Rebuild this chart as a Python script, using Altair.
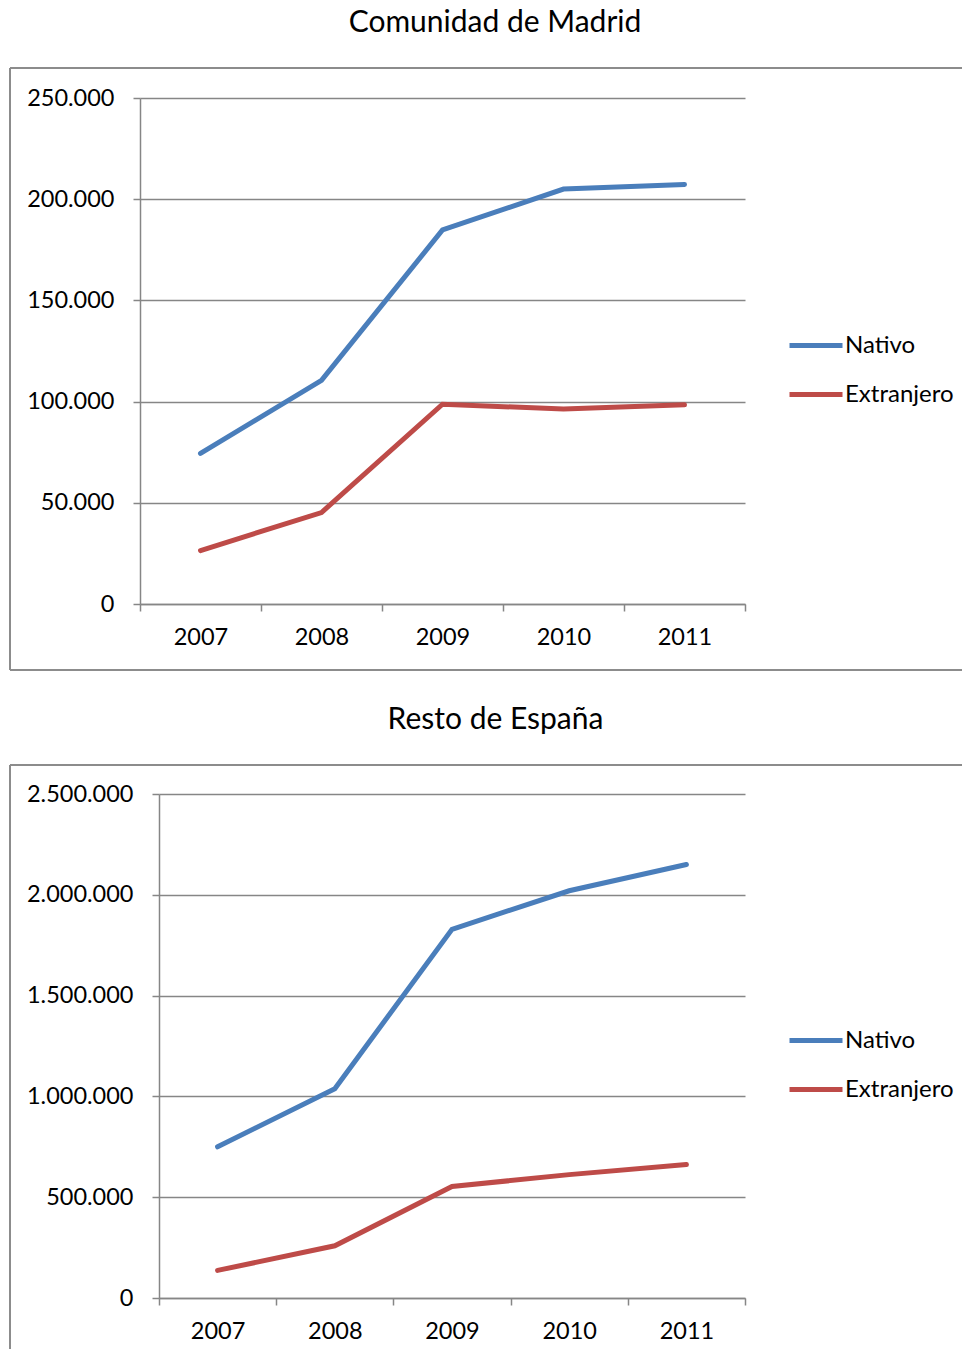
import altair as alt
import pandas as pd

years = ["2007", "2008", "2009", "2010", "2011"]
series = ["Nativo", "Extranjero"]

madrid_nativo = [74400, 110500, 184800, 205000, 207300]
madrid_extranjero = [26400, 45200, 98700, 96300, 98400]
madrid_ticks = [0, 50000, 100000, 150000, 200000, 250000]

resto_nativo = [750000, 1038000, 1829000, 2020000, 2150000]
resto_extranjero = [137000, 259000, 553000, 612000, 662000]
resto_ticks = [0, 500000, 1000000, 1500000, 2000000, 2500000]

FONT = "Lato"
GRAY = "#868686"
BOX = "#8c8c8c"
BLUE = "#4A7EBB"
RED = "#BE4B48"
LABEL_EXPR = "replace(format(datum.value, ','), regexp(',', 'g'), '.')"


def make_df(nat, ext):
    rows = []
    for y, v in zip(years, nat):
        rows.append({"Año": y, "Serie": "Nativo", "Valor": v})
    for y, v in zip(years, ext):
        rows.append({"Año": y, "Serie": "Extranjero", "Valor": v})
    return pd.DataFrame(rows)


def panel(df, title, ticks, W, H, ox, right, box_top, box_bottom, draw_bottom,
          title_x, title_y, legend_x, legend_y):
    deco = alt.Data(values=[{"k": 1}])
    layers = []
    lines = alt.Chart(df).mark_line(strokeWidth=5, strokeCap="round").encode(
        x=alt.X(
            "Año:O",
            sort=years,
            scale=alt.Scale(type="band", paddingInner=0, paddingOuter=0),
            axis=alt.Axis(
                title=None, labelAngle=0, tickBand="extent", tickSize=7,
                tickColor=GRAY, tickWidth=1.5, domainColor=GRAY, domainWidth=1.5,
                labelFont=FONT, labelFontSize=23.5, labelColor="black",
                labelPadding=14, grid=False,
            ),
        ),
        y=alt.Y(
            "Valor:Q",
            scale=alt.Scale(domain=[ticks[0], ticks[-1]], nice=False),
            axis=alt.Axis(
                title=None, values=ticks, labelExpr=LABEL_EXPR, grid=True,
                gridColor=GRAY, gridWidth=1.5, tickSize=7, tickColor=GRAY,
                tickWidth=1.5, domainColor=GRAY, domainWidth=1.5,
                labelFont=FONT, labelFontSize=23.5, labelColor="black",
                labelPadding=19,
            ),
        ),
        color=alt.Color(
            "Serie:N",
            sort=series,
            scale=alt.Scale(domain=series, range=[BLUE, RED]),
            legend=alt.Legend(
                title=None, orient="none", legendX=legend_x, legendY=legend_y,
                symbolType="M-2.65,0H2.65", symbolSize=400, symbolStrokeWidth=5,
                labelOffset=16.5, labelFont=FONT, labelFontSize=24,
                labelColor="black", rowPadding=24, padding=0,
            ),
        ),
    )
    layers.append(lines)
    layers.append(alt.Chart(deco).mark_text(
        text=title, font=FONT, fontSize=30, color="black",
        align="center", baseline="alphabetic",
    ).encode(x=alt.value(title_x), y=alt.value(title_y)))
    layers.append(alt.Chart(deco).mark_rule(color=BOX, strokeWidth=2).encode(
        x=alt.value(-ox), x2=alt.value(right), y=alt.value(box_top)))
    layers.append(alt.Chart(deco).mark_rule(color=BOX, strokeWidth=2).encode(
        x=alt.value(-ox), y=alt.value(box_top), y2=alt.value(box_bottom)))
    if draw_bottom:
        layers.append(alt.Chart(deco).mark_rule(color=BOX, strokeWidth=2).encode(
            x=alt.value(-ox), x2=alt.value(right), y=alt.value(box_bottom)))
    return alt.layer(*layers).properties(width=W, height=H)


def spacer():
    return alt.Chart(alt.Data(values=[{"k": 1}])).mark_point(
        size=0, opacity=0
    ).encode(x=alt.value(0), y=alt.value(0)).properties(width=1, height=1)


c1 = panel(make_df(madrid_nativo, madrid_extranjero), "Comunidad de Madrid",
           madrid_ticks, 605, 506, 130, 822, -30, 572, True, 355, -66, 663.5, 235)
c2 = panel(make_df(resto_nativo, resto_extranjero), "Resto de España",
           resto_ticks, 586, 504, 149, 803, -29, 555, False, 336.5, -65, 644.5, 234)

row1 = alt.hconcat(spacer(), c1, spacing=0).resolve_scale(color="independent")
row2 = alt.hconcat(spacer(), c2, spacing=0).resolve_scale(color="independent")

chart = alt.vconcat(row1, row2, spacing=34).resolve_scale(
    color="independent"
).configure_view(stroke=None).properties(
    padding={"left": 0, "top": 0, "right": 0, "bottom": 0}
)

chart.save("out.html", embed_options={"renderer": "svg", "actions": False})
